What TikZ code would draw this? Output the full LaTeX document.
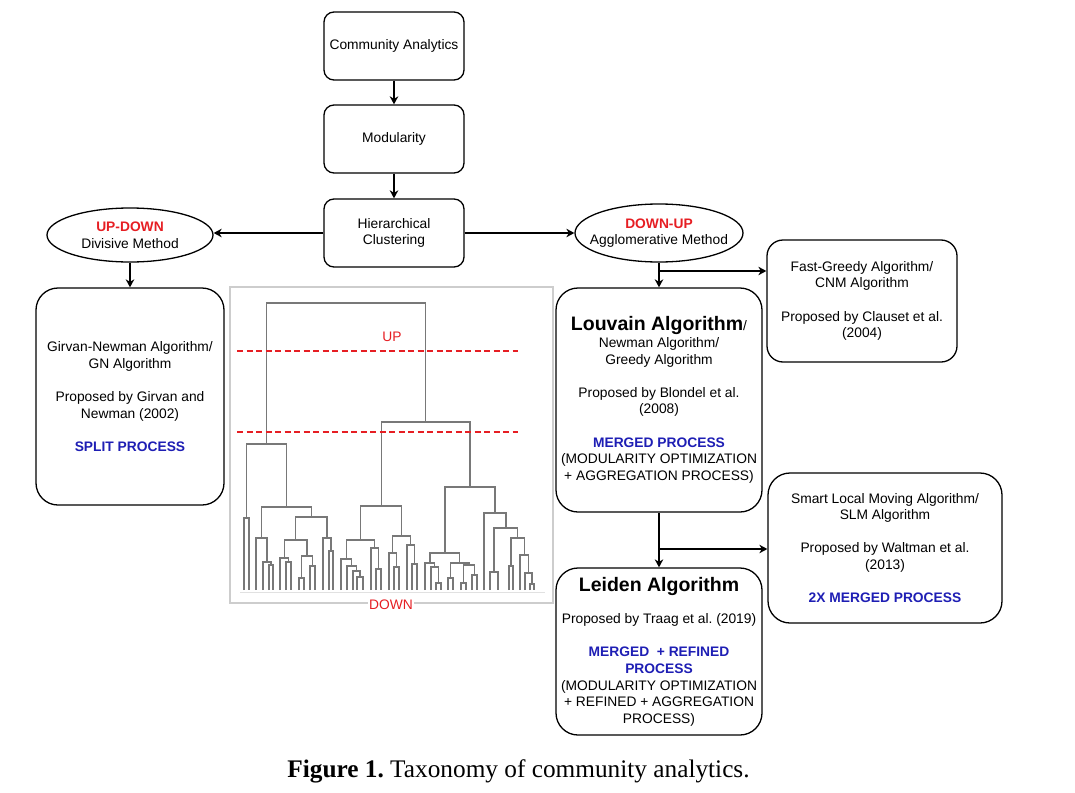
\documentclass[tikz,border=0pt]{standalone}
\usepackage{fontspec}
\setmainfont{Liberation Sans}
\newfontfamily\capfont{Liberation Serif}
\usepackage{tikz}
\usetikzlibrary{arrows.meta,shapes.geometric}
\definecolor{cutred}{RGB}{230,30,35}
\definecolor{procblue}{RGB}{30,30,180}
\definecolor{treegray}{RGB}{120,120,120}
\definecolor{framegray}{RGB}{205,205,205}
\frenchspacing

\begin{document}
\begin{tikzpicture}[x=1pt,y=-1pt,
  font=\fontsize{13.8}{16.6}\selectfont,
  box/.style={draw,line width=1.3pt,rounded corners=10pt,align=center,inner sep=0pt},
  bigbox/.style={box,rounded corners=22pt},
  meth/.style={draw,ellipse,line width=1.3pt,inner sep=0pt},
  link/.style={line width=1.3pt,-{Stealth[length=8pt,width=8.5pt,inset=2.5pt]}},
  dendro/.style={treegray,line width=1.4pt},
  cut/.style={cutred,line width=1.3pt,dash pattern=on 6pt off 3.5pt}]
  \useasboundingbox (0,0) rectangle (1075,792);

  % top chain
  \node[box,minimum width=140pt,minimum height=68pt] (ca) at (394,46) {Community Analytics};
  \node[box,minimum width=140pt,minimum height=68pt] (mod) at (394,139) {Modularity};
  \node[box,minimum width=140pt,minimum height=68pt] (hc) at (394,233) {Hierarchical\\Clustering};

  % the two methods
  \node[meth,minimum width=166pt,minimum height=54pt,
    label={[align=center]center:{\textcolor{cutred}{\bfseries UP-DOWN}\\Divisive Method}}] (ud) at (130,235) {};
  \node[meth,minimum width=168pt,minimum height=58pt,
    label={[align=center]center:{\textcolor{cutred}{\bfseries DOWN-UP}\\Agglomerative Method}}] (du) at (659,233) {};

  % algorithm boxes
  \node[bigbox,minimum width=188pt,minimum height=217pt] (gn) at (130,396.5)
    {Girvan-Newman Algorithm/\\GN Algorithm\\[16.6pt]Proposed by Girvan and\\Newman (2002)\\[16.6pt]
     \textcolor{procblue}{\bfseries SPLIT PROCESS}};
  \node[bigbox,minimum width=206pt,minimum height=224pt] (lv) at (659,400)
    {{\fontsize{19.5}{21}\selectfont\bfseries Louvain Algorithm}/\\Newman Algorithm/\\Greedy Algorithm\\[16.6pt]
     Proposed by Blondel et al.\\(2008)\\[16.6pt]\textcolor{procblue}{\bfseries MERGED PROCESS}\\
     (MODULARITY OPTIMIZATION\\+ AGGREGATION PROCESS)};
  \node[bigbox,rounded corners=16pt,minimum width=190pt,minimum height=122pt] (fg) at (862,301)
    {Fast-Greedy Algorithm/\\CNM Algorithm\\[16.6pt]Proposed by Clauset et al.\\(2004)};
  \node[bigbox,minimum width=234pt,minimum height=150pt] (sl) at (885,548)
    {Smart Local Moving Algorithm/\\SLM Algorithm\\[16.6pt]Proposed by Waltman et al.\\(2013)\\[16.6pt]
     \textcolor{procblue}{\bfseries 2X MERGED PROCESS}};
  \node[bigbox,minimum width=206pt,minimum height=167pt] (ld) at (659,651.5)
    {{\fontsize{19.5}{21}\selectfont\bfseries Leiden Algorithm}\\[16pt]Proposed by Traag et al. (2019)\\[16.6pt]
     \textcolor{procblue}{\bfseries MERGED\ \ + REFINED}\\\textcolor{procblue}{\bfseries PROCESS}\\
     (MODULARITY OPTIMIZATION\\+ REFINED + AGGREGATION\\PROCESS)};

  % connectors
  \draw[link] (ca) -- (mod);
  \draw[link] (mod) -- (hc);
  \draw[link] (hc.west) -- (hc.west -| ud.east);
  \draw[link] (hc.east) -- (hc.east -| du.west);
  \draw[link] (ud) -- (gn);
  \draw[link] (du) -- (lv);
  \coordinate (fork1) at (659,271);
  \draw[link] (fork1) -- (fork1 -| fg.west);
  \draw[link] (lv) -- (ld);
  \coordinate (fork2) at (659,549);
  \draw[link] (fork2) -- (fork2 -| sl.west);

  % dendrogram panel
  \draw[framegray,line width=1.5pt] (230,287) rectangle (553,603);
  \draw[framegray!60,line width=1pt] (240,592) -- (545,592);
  \foreach \xl/\xr/\yt/\ya/\yb in {
    244/249/518/590/590, 269/273/565/590/590, 263/271/562/590/565, 256/267/538/590/562,
    286/291/562/590/590, 280/288.5/558/590/562, 299/304/578/590/590, 310/315/566/590/590,
    301.5/312.5/556/578/566, 284.25/307/540/558/556, 329/333/551/590/590, 323/331/538/590/551,
    295.6/327/517/540/538, 261.5/311.3/507/538/517, 246.5/286.4/444/518/507,
    357/363/577/590/590, 353/360/571/590/577, 347/356.5/566/590/571, 341/351.75/559/590/566,
    376/381/569/590/590, 371/378.5/548/590/569, 346.4/374.75/540/559/548,
    394/399/567/590/590, 389/396.5/553/590/567, 412/417/564/590/590, 407/414.5/545/590/564,
    392.75/410.75/536/553/545, 360.6/401.75/506/540/536,
    436/441/583/590/590, 431/438.5/567/590/583, 425/434.75/563/590/567,
    448/453/578/590/590, 461/466/583/590/590, 472/477/575/590/590, 463.5/474.5/565/583/575,
    450.5/469/563/578/565, 429.9/459.75/553/563/563,
    490/498/572/590/590, 509/513/566/590/590, 530/534/584/590/590, 525/532/573/590/584,
    520/528.5/555/590/573, 511/524.25/538/566/555, 494/517.6/528/572/538, 484/505.8/513/590/528,
    444.8/494.9/487/553/513, 381.2/469.85/422/506/487, 266.45/425.5/303/444/422}
    \draw[dendro] (\xl,\ya) |- (\xr,\yt) -- (\xr,\yb);
  \draw[cut] (237,351) -- (518,351);
  \draw[cut] (237,432) -- (518,432);
  \node[text=cutred] (up) at (392,337) {UP};
  \node[text=cutred,fill=white,inner sep=1pt] (down) at (391,605) {DOWN};

  % caption
  \node[font={\capfont\fontsize{25.3}{28}\selectfont}] (cap) at (518.5,771)
    {\textbf{Figure 1.} Taxonomy of community analytics.};
\end{tikzpicture}
\end{document}
